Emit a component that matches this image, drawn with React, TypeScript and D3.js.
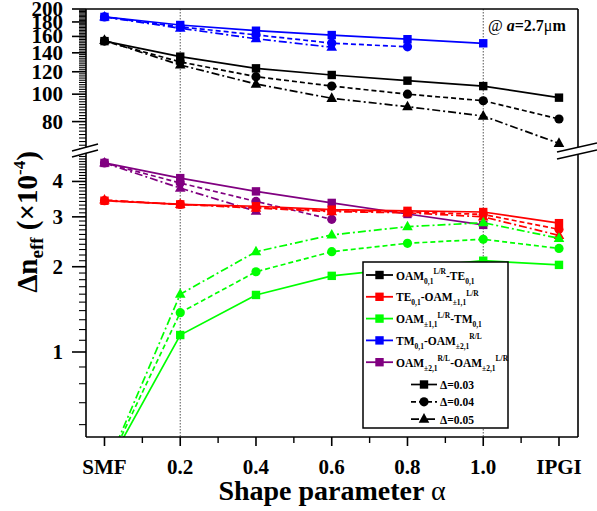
import React from 'react';
import * as d3 from 'd3';

// ---------- data ----------
const categories = ['SMF', '0.2', '0.4', '0.6', '0.8', '1.0', 'IPGI'];
const deltaLabels = ['Δ=0.03', 'Δ=0.04', 'Δ=0.05'];

const blackD03 = [154, 135.7, 123.4, 116.9, 111.6, 106.8, 97.2];
const blackD04 = [154, 130, 115.3, 106.8, 100, 94.8, 81.7];
const blackD05 = [155, 126.8, 108.6, 96.7, 90.3, 83.7, 67];

const blueD03 = [187.5, 175.6, 167.6, 161.8, 156.4, 151.3, null];
const blueD04 = [187.5, 173, 162, 151.5, 147, null, null];
const blueD05 = [187.5, 171, 157, 146.5, null, null, null];

const redD03 = [3.42, 3.32, 3.27, 3.18, 3.15, 3.12, 2.85];
const redD04 = [3.42, 3.32, 3.24, 3.15, 3.12, 3.06, 2.71];
const redD05 = [3.44, 3.32, 3.22, 3.13, 3.1, 3.0, 2.58];

const greenD03 = [0.43, 1.148, 1.59, 1.857, 1.98, 2.1, 2.03];
const greenD04 = [0.43, 1.377, 1.92, 2.26, 2.42, 2.5, 2.32];
const greenD05 = [0.43, 1.6, 2.26, 2.59, 2.77, 2.86, 2.52];

const purpleD03 = [4.65, 4.11, 3.69, 3.36, 3.07, 2.81, null];
const purpleD04 = [4.65, 3.95, 3.4, 2.94, null, null, null];
const purpleD05 = [4.65, 3.79, 3.14, null, null, null, null];

const topMajorTicks = [80, 100, 120, 140, 160, 180, 200];
const topMinorTicks = d3.range(64, 200, 2).filter((v) => !topMajorTicks.includes(v));
const bottomMajorTicks = [1, 2, 3, 4];
const bottomMinorTicks = d3
  .range(6, 50, 1)
  .map((v) => v / 10)
  .filter((v) => !bottomMajorTicks.includes(v));
const dottedAt = [1, 5];

type Part = [string, 'n' | 'sub' | 'sup'];
const legendLabels: Part[][] = [
  [['OAM', 'n'], ['0,1', 'sub'], ['L/R', 'sup'], ['-TE', 'n'], ['0,1', 'sub']],
  [['TE', 'n'], ['0,1', 'sub'], ['-OAM', 'n'], ['±1,1', 'sub'], ['L/R', 'sup']],
  [['OAM', 'n'], ['±1,1', 'sub'], ['L/R', 'sup'], ['-TM', 'n'], ['0,1', 'sub']],
  [['TM', 'n'], ['0,1', 'sub'], ['-OAM', 'n'], ['±2,1', 'sub'], ['R/L', 'sup']],
  [['OAM', 'n'], ['±2,1', 'sub'], ['R/L', 'sup'], ['-OAM', 'n'], ['±2,1', 'sub'], ['L/R', 'sup']],
];

const series = [
  { key: 'purple', color: '#800080', panel: 'bottom', values: [purpleD03, purpleD04, purpleD05] },
  { key: 'blue', color: '#0000ff', panel: 'top', values: [blueD03, blueD04, blueD05] },
  { key: 'black', color: '#000000', panel: 'top', values: [blackD03, blackD04, blackD05] },
  { key: 'red', color: '#ff0000', panel: 'bottom', values: [redD03, redD04, redD05] },
  { key: 'green', color: '#00ff00', panel: 'bottom', values: [greenD03, greenD04, greenD05] },
];
const legendOrder = ['black', 'red', 'green', 'blue', 'purple'];

// ---------- layout ----------
const W = 597;
const H = 511;
const L = 86;
const R = 578;
const T = 9;
const B = 437;
const TOP_B = 149;
const BOT_T = 154;
const FONT = '"Liberation Serif", "Times New Roman", serif';

const xScale = d3.scaleLinear().domain([-0.244, 6.251]).range([L, R]);
const yTop = d3.scaleLog().domain([64, 200]).range([TOP_B, T]);
const yBot = d3.scaleLog().domain([0.55, 1, 5]).range([B, 352, BOT_T]);

const dashes = ['', '5,3', '8,3,2,3'];
const markerKinds = ['square', 'circle', 'triangle'];

function Marker({ kind, x, y, color }: { kind: string; x: number; y: number; color: string }) {
  if (kind === 'square') return <rect x={x - 4.2} y={y - 4.2} width={8.4} height={8.4} fill={color} />;
  if (kind === 'circle') return <circle cx={x} cy={y} r={4.6} fill={color} />;
  return <path d={`M${x},${y - 6}L${x - 5.3},${y + 3.6}L${x + 5.3},${y + 3.6}Z`} fill={color} />;
}

function RichText({ parts, x, y, size, small }: { parts: Part[]; x: number; y: number; size: number; small: number }) {
  let cur = 0;
  const offs = { n: 0, sub: 4, sup: -5.5 };
  return (
    <text x={x} y={y} fontSize={size} fontWeight="bold" fontFamily={FONT}>
      {parts.map(([t, k], i) => {
        const dy = offs[k] - cur;
        cur = offs[k];
        return (
          <tspan key={i} dy={dy} fontSize={k === 'n' ? size : small}>
            {t}
          </tspan>
        );
      })}
    </text>
  );
}

export default function App() {
  const lineFor = (panel: string) =>
    d3
      .line<number | null>()
      .defined((d) => d != null)
      .x((_, i) => xScale(i))
      .y((d) => (panel === 'top' ? yTop(d as number) : yBot(d as number)));

  const legendRowsY = d3.range(5).map((i) => 275 + i * 21.8);
  const deltaRowsY = d3.range(3).map((i) => 384.5 + i * 17.3);

  return (
    <svg
      width={W}
      height={H}
      style={{ position: 'absolute', left: 0, top: 0, background: '#fff' }}
      fontFamily={FONT}
    >
      <defs>
        <clipPath id="clipTop">
          <rect x={L} y={T} width={R - L} height={TOP_B - T} />
        </clipPath>
        <clipPath id="clipBot">
          <rect x={L} y={BOT_T} width={R - L} height={B - BOT_T} />
        </clipPath>
      </defs>
      <rect x={0} y={0} width={W} height={H} fill="#fff" />

      {/* dotted verticals */}
      {dottedAt.map((i) => (
        <line
          key={i}
          x1={xScale(i)}
          x2={xScale(i)}
          y1={T}
          y2={B}
          stroke="#555"
          strokeWidth={1}
          strokeDasharray="1.5,1.5"
        />
      ))}

      {/* series */}
      {series.map((s) => {
        const yS = s.panel === 'top' ? yTop : yBot;
        const gen = lineFor(s.panel);
        return (
          <g key={s.key} clipPath={`url(#${s.panel === 'top' ? 'clipTop' : 'clipBot'})`}>
            {s.values.map((vals, k) => (
              <path
                key={'l' + k}
                d={gen(vals) || ''}
                fill="none"
                stroke={s.color}
                strokeWidth={1.7}
                strokeDasharray={dashes[k] || undefined}
              />
            ))}
            {s.values.map((vals, k) =>
              vals.map((v, i) =>
                v == null ? null : (
                  <Marker key={`m${k}-${i}`} kind={markerKinds[k]} x={xScale(i)} y={yS(v)} color={s.color} />
                )
              )
            )}
          </g>
        );
      })}

      {/* frame */}
      <g stroke="#000" strokeWidth={1.6} fill="none">
        <line x1={L} x2={L} y1={T} y2={B} />
        <line x1={R} x2={R} y1={T} y2={B} />
        <line x1={L} x2={R} y1={T} y2={T} />
        <line x1={L} x2={R} y1={B} y2={B} />
      </g>

      {/* y ticks top */}
      <g stroke="#000" strokeWidth={1.1}>
        {topMinorTicks.map((v) => (
          <line key={'tm' + v} x1={L - 7} x2={L} y1={yTop(v)} y2={yTop(v)} />
        ))}
        {topMajorTicks.map((v) => (
          <line key={'tM' + v} x1={L - 14} x2={L} y1={yTop(v)} y2={yTop(v)} strokeWidth={1.6} />
        ))}
        {bottomMinorTicks.map((v) => (
          <line key={'bm' + v} x1={L - 7} x2={L} y1={yBot(v)} y2={yBot(v)} />
        ))}
        {bottomMajorTicks.map((v) => (
          <line key={'bM' + v} x1={L - 14} x2={L} y1={yBot(v)} y2={yBot(v)} strokeWidth={1.6} />
        ))}
        {categories.map((c, i) => (
          <line key={'xM' + i} x1={xScale(i)} x2={xScale(i)} y1={B} y2={B + 9} strokeWidth={1.6} />
        ))}
        {categories.slice(0, -1).map((c, i) => (
          <line key={'xm' + i} x1={xScale(i + 0.5)} x2={xScale(i + 0.5)} y1={B} y2={B + 6} strokeWidth={1.4} />
        ))}
      </g>

      {/* tick labels */}
      <g fontSize={21} fontWeight="bold" textAnchor="end">
        {topMajorTicks.map((v) => (
          <text key={'tl' + v} x={63} y={yTop(v) + 7}>
            {v}
          </text>
        ))}
        {bottomMajorTicks.map((v) => (
          <text key={'bl' + v} x={63} y={yBot(v) + 7}>
            {v}
          </text>
        ))}
      </g>
      <g fontSize={21} fontWeight="bold" textAnchor="middle">
        {categories.map((c, i) => (
          <text key={'xl' + i} x={xScale(i)} y={474}>
            {c}
          </text>
        ))}
      </g>

      {/* axis breaks */}
      <g>
        <path d="M72,151L98,144L98,150L72,157Z" fill="#fff" />
        <line x1={72} y1={151} x2={98} y2={144} stroke="#000" strokeWidth={1.5} />
        <line x1={72} y1={157} x2={98} y2={150} stroke="#000" strokeWidth={1.5} />
        <path d="M557,152L597,143L597,150L557,159Z" fill="#fff" />
        <line x1={557} y1={152} x2={597} y2={143} stroke="#000" strokeWidth={1.5} />
        <line x1={557} y1={159} x2={597} y2={150} stroke="#000" strokeWidth={1.5} />
      </g>

      {/* annotation */}
      <text x={488} y={31} fontSize={16} fontWeight="bold">
        <tspan fontWeight="normal">@ </tspan>
        <tspan fontStyle="italic">a</tspan>
        <tspan>=2.7</tspan>
        <tspan fontWeight="normal">μ</tspan>
        <tspan>m</tspan>
      </text>

      {/* legend */}
      <rect x={363} y={262} width={145} height={166} fill="#fff" stroke="#000" strokeWidth={1.5} />
      {legendOrder.map((key, i) => {
        const s = series.find((q) => q.key === key)!;
        const y = legendRowsY[i];
        return (
          <g key={'lg' + key}>
            <line x1={366} x2={393} y1={y} y2={y} stroke={s.color} strokeWidth={1.8} />
            <Marker kind="square" x={379.5} y={y} color={s.color} />
            <RichText parts={legendLabels[i]} x={396} y={y + 4.5} size={11.5} small={7.5} />
          </g>
        );
      })}
      {deltaLabels.map((lab, k) => {
        const y = deltaRowsY[k];
        return (
          <g key={'dl' + k}>
            <line
              x1={411}
              x2={437}
              y1={y}
              y2={y}
              stroke="#000"
              strokeWidth={1.7}
              strokeDasharray={dashes[k] || undefined}
            />
            <Marker kind={markerKinds[k]} x={424} y={y} color="#000" />
            <text x={440} y={y + 4.5} fontSize={11.5} fontWeight="bold">
              {lab}
            </text>
          </g>
        );
      })}

      {/* axis titles */}
      <text x={332} y={500} fontSize={28} fontWeight="bold" textAnchor="middle">
        Shape parameter <tspan fontWeight="normal">α</tspan>
      </text>
      <text transform="translate(37,222) rotate(-90)" fontSize={29} fontWeight="bold" textAnchor="middle">
        <tspan>Δn</tspan>
        <tspan fontSize={19} dy={6}>
          eff
        </tspan>
        <tspan dy={-6}> (×10</tspan>
        <tspan fontSize={17} dy={-12}>
          -4
        </tspan>
        <tspan dy={12}>)</tspan>
      </text>
    </svg>
  );
}
